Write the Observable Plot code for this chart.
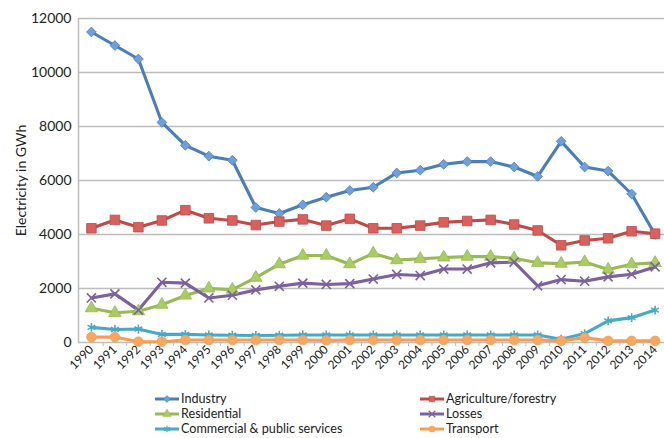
<!DOCTYPE html>
<html>
<head>
<meta charset="utf-8">
<script src="https://cdn.jsdelivr.net/npm/d3@7"></script>
<script src="https://cdn.jsdelivr.net/npm/@observablehq/plot@0.6"></script>
<style>
  body { margin: 0; background: #fff; font-family: Lato, "Open Sans", sans-serif; }
  #chart { width: 664px; height: 438px; position: relative; overflow: hidden; }
  .legend { display: grid; grid-template-columns: 265px 240px; padding-left: 155px; margin-top: 6px; }
  .item { display: flex; align-items: center; height: 15px; font-size: 12.6px; color: #222; }
  .item svg { margin-right: 2px; }
</style>
</head>
<body>
<div id="chart"></div>
<script>
const years = [1990,1991,1992,1993,1994,1995,1996,1997,1998,1999,2000,2001,2002,2003,2004,2005,2006,2007,2008,2009,2010,2011,2012,2013,2014];
const industry    = [11500,11000,10500,8150,7300,6900,6750,5000,4780,5100,5380,5630,5750,6280,6380,6600,6700,6700,6500,6150,7450,6500,6350,5500,4000];
const agriculture = [4230,4540,4270,4520,4900,4600,4520,4350,4480,4560,4330,4580,4230,4230,4330,4450,4500,4540,4370,4150,3600,3780,3860,4120,4030];
const residential = [1270,1100,1160,1400,1740,2000,1960,2400,2900,3220,3220,2900,3300,3050,3100,3150,3180,3180,3120,2950,2920,2980,2700,2900,2950];
const losses      = [1650,1800,1200,2230,2200,1650,1750,1950,2080,2200,2150,2180,2350,2520,2480,2720,2720,2950,2980,2100,2330,2270,2430,2530,2800];
const commercial  = [560,480,500,300,300,280,270,260,270,280,280,280,280,280,280,280,280,280,280,280,120,330,800,920,1200];
const transport   = [200,200,30,30,90,90,90,90,90,90,80,90,90,90,90,90,90,90,90,90,60,180,60,60,60];

const seriesNames = ["Industry","Agriculture/forestry","Residential","Losses","Commercial & public services","Transport"];
const seriesValues = [industry, agriculture, residential, losses, commercial, transport];
const seriesColors = ["#4a7ebb","#be4b48","#98b954","#7d60a0","#46aac5","#f59d56"];
const markerFill   = ["#6f9fdc","#d9605c","#a9cc63","#7d60a0","#46aac5","#f9a65e"];
const symbols = ["diamond2","square","triangle","times","asterisk","circle"];
const radii   = [4.4, 5.4, 4.6, 4.2, 4.2, 4.8];

const rows = [];
seriesNames.forEach((name, i) => {
  years.forEach((y, j) => rows.push({series: name, year: y, value: seriesValues[i][j], idx: i}));
});

const plot = Plot.plot({
  width: 664,
  height: 385,
  marginLeft: 78,
  marginRight: 0,
  marginTop: 18,
  marginBottom: 43,
  style: {fontFamily: "Lato, 'Open Sans', sans-serif", fontSize: "13px", color: "#222"},
  x: {type: "linear", domain: [1989.45, 2014.4]},
  y: {domain: [0, 12000]},
  marks: [
    Plot.gridY([0,2000,4000,6000,8000,10000,12000], {stroke: "#bdbdbd", strokeOpacity: 1, strokeWidth: 1.5}),
    Plot.ruleX([1989.45], {stroke: "#bdbdbd", strokeWidth: 1.5}),
    Plot.axisX({ticks: years.map(y => y + 0.5).slice(0, -1), tickFormat: () => "", tickSize: 4, stroke: "#bdbdbd", label: null}),
    Plot.axisY({ticks: [0,2000,4000,6000,8000,10000,12000], tickFormat: d => String(d), tickSize: 0, tickPadding: 7,
      label: "Electricity in GWh", labelAnchor: "center", labelArrow: "none", labelOffset: 62, fontSize: 14}),
    Plot.axisX({ticks: years, tickFormat: d => String(d), tickSize: 0, tickRotate: -45, tickPadding: 5, label: null, fontSize: 12}),
    ...seriesNames.map((name, i) => Plot.line(rows.filter(d => d.idx === i), {
      x: "year", y: "value", stroke: seriesColors[i], strokeWidth: 3.1, curve: "linear"
    })),
    ...seriesNames.map((name, i) => {
      const filled = !(symbols[i] === "times" || symbols[i] === "asterisk");
      return Plot.dot(rows.filter(d => d.idx === i), {
        x: "year", y: "value", symbol: () => symbols[i],
        r: radii[i],
        fill: filled ? markerFill[i] : "none",
        stroke: seriesColors[i],
        strokeWidth: filled ? 0.8 : 1.6
      });
    })
  ]
});

const chart = document.getElementById("chart");
chart.appendChild(plot);

// legend
const legend = document.createElement("div");
legend.className = "legend";
const symMap = {diamond2: d3.symbolDiamond2, square: d3.symbolSquare, triangle: d3.symbolTriangle, times: d3.symbolTimes, asterisk: d3.symbolAsterisk, circle: d3.symbolCircle};
[0,1,2,3,4,5].forEach(i => {
  const item = document.createElement("div");
  item.className = "item";
  const sw = d3.create("svg").attr("width", 24).attr("height", 12);
  sw.append("line").attr("x1", 0).attr("x2", 24).attr("y1", 6).attr("y2", 6)
    .attr("stroke", seriesColors[i]).attr("stroke-width", 3);
  const filled = !(symbols[i] === "times" || symbols[i] === "asterisk");
  sw.append("path").attr("transform", "translate(12,6)")
    .attr("d", d3.symbol(symMap[symbols[i]], 30)())
    .attr("fill", filled ? markerFill[i] : "none")
    .attr("stroke", seriesColors[i]).attr("stroke-width", filled ? 0.6 : 1.2);
  item.appendChild(sw.node());
  const t = document.createElement("span");
  t.textContent = seriesNames[i];
  item.appendChild(t);
  legend.appendChild(item);
});
chart.appendChild(legend);
</script>
</body>
</html>
